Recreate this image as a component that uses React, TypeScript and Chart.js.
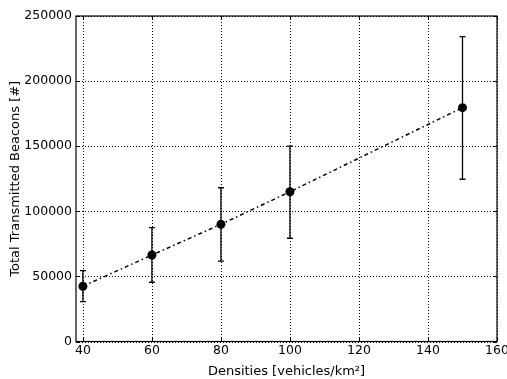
import React, { useEffect, useRef } from "react";
import { Chart, registerables } from "chart.js";

Chart.register(...registerables);

const densities = [40, 60, 80, 100, 150];
const beacons = [42400, 66400, 90000, 115000, 179600];
const errLow = [30600, 45500, 61800, 79300, 124600];
const errHigh = [54400, 87400, 118100, 150100, 234100];
const xTicks = [40, 60, 80, 100, 120, 140, 160];
const yTicks = [0, 50000, 100000, 150000, 200000, 250000];

const FONT = "'DejaVu Sans', sans-serif";

const framePlugin = {
  id: "framePlugin",
  beforeDatasetsDraw(chart: any) {
    const { ctx, chartArea: a, scales } = chart;
    const x = scales.x, y = scales.y;
    ctx.save();
    ctx.strokeStyle = "#000";
    ctx.lineWidth = 1;
    ctx.setLineDash([1, 2]);
    xTicks.forEach((v) => {
      const px = Math.round(x.getPixelForValue(v)) + 0.5;
      ctx.beginPath();
      ctx.moveTo(px, a.top);
      ctx.lineTo(px, a.bottom);
      ctx.stroke();
    });
    yTicks.forEach((v) => {
      const py = Math.round(y.getPixelForValue(v)) + 0.5;
      ctx.beginPath();
      ctx.moveTo(a.left, py);
      ctx.lineTo(a.right, py);
      ctx.stroke();
    });
    ctx.setLineDash([]);
    ctx.lineWidth = 1.3;
    densities.forEach((d, i) => {
      const px = x.getPixelForValue(d);
      const lo = y.getPixelForValue(errLow[i]);
      const hi = y.getPixelForValue(errHigh[i]);
      ctx.beginPath();
      ctx.moveTo(px, lo);
      ctx.lineTo(px, hi);
      ctx.moveTo(px - 3, lo);
      ctx.lineTo(px + 3, lo);
      ctx.moveTo(px - 3, hi);
      ctx.lineTo(px + 3, hi);
      ctx.stroke();
    });
    ctx.restore();
  },
  afterDraw(chart: any) {
    const { ctx, chartArea: a, scales } = chart;
    const x = scales.x, y = scales.y;
    ctx.save();
    ctx.strokeStyle = "#000";
    ctx.lineWidth = 1.2;
    ctx.strokeRect(a.left, a.top, a.right - a.left, a.bottom - a.top);
    ctx.lineWidth = 1;
    const L = 4;
    xTicks.forEach((v) => {
      const px = Math.round(x.getPixelForValue(v)) + 0.5;
      ctx.beginPath();
      ctx.moveTo(px, a.bottom);
      ctx.lineTo(px, a.bottom - L);
      ctx.moveTo(px, a.top);
      ctx.lineTo(px, a.top + L);
      ctx.stroke();
    });
    yTicks.forEach((v) => {
      const py = Math.round(y.getPixelForValue(v)) + 0.5;
      ctx.beginPath();
      ctx.moveTo(a.left, py);
      ctx.lineTo(a.left + L, py);
      ctx.moveTo(a.right, py);
      ctx.lineTo(a.right - L, py);
      ctx.stroke();
    });
    ctx.restore();
  },
};

export default function App() {
  const ref = useRef<HTMLCanvasElement>(null);
  useEffect(() => {
    document.body.style.margin = "0";
    const chart = new Chart(ref.current as HTMLCanvasElement, {
      type: "line",
      data: {
        datasets: [
          {
            data: densities.map((d, i) => ({ x: d, y: beacons[i] })),
            borderColor: "#000",
            backgroundColor: "#000",
            borderWidth: 1.5,
            borderDash: [4, 3, 1.5, 3],
            pointRadius: 4.5,
            pointBackgroundColor: "#000",
            pointBorderColor: "#000",
            pointBorderWidth: 0,
            tension: 0,
          },
        ],
      },
      options: {
        animation: false,
        responsive: false,
        maintainAspectRatio: false,
        layout: { padding: { top: 16, right: 10, left: 8, bottom: 0 } },
        plugins: { legend: { display: false }, tooltip: { enabled: false } },
        scales: {
          x: {
            type: "linear",
            min: 38,
            max: 160,
            afterBuildTicks: (s: any) => {
              s.ticks = xTicks.map((v) => ({ value: v }));
            },
            afterFit: (s: any) => {
              s.height = 37.5;
              s.paddingRight = 0;
            },
            grid: { display: false, drawTicks: false },
            border: { display: false },
            ticks: {
              color: "#000",
              font: { family: FONT, size: 12.5 },
              padding: 2,
              maxRotation: 0,
              autoSkip: false,
              callback: (v: any) => String(v),
            },
            title: {
              display: true,
              text: "Densities [vehicles/km²]",
              color: "#000",
              font: { family: FONT, size: 13 },
              padding: { top: 2, bottom: 0 },
            },
          },
          y: {
            type: "linear",
            min: 0,
            max: 250000,
            afterBuildTicks: (s: any) => {
              s.ticks = yTicks.map((v) => ({ value: v }));
            },
            afterFit: (s: any) => {
              s.width = 68;
            },
            grid: { display: false, drawTicks: false },
            border: { display: false },
            ticks: {
              color: "#000",
              font: { family: FONT, size: 12.5 },
              padding: 4,
              autoSkip: false,
              callback: (v: any) => String(v),
            },
            title: {
              display: true,
              text: "Total Transmitted Beacons [#]",
              color: "#000",
              font: { family: FONT, size: 13 },
              padding: { top: 0, bottom: 2 },
            },
          },
        },
      },
      plugins: [framePlugin],
    } as any);
    return () => chart.destroy();
  }, []);
  return (
    <div style={{ width: 507, height: 379 }}>
      <canvas ref={ref} width={507} height={379} style={{ display: "block" }} />
    </div>
  );
}
